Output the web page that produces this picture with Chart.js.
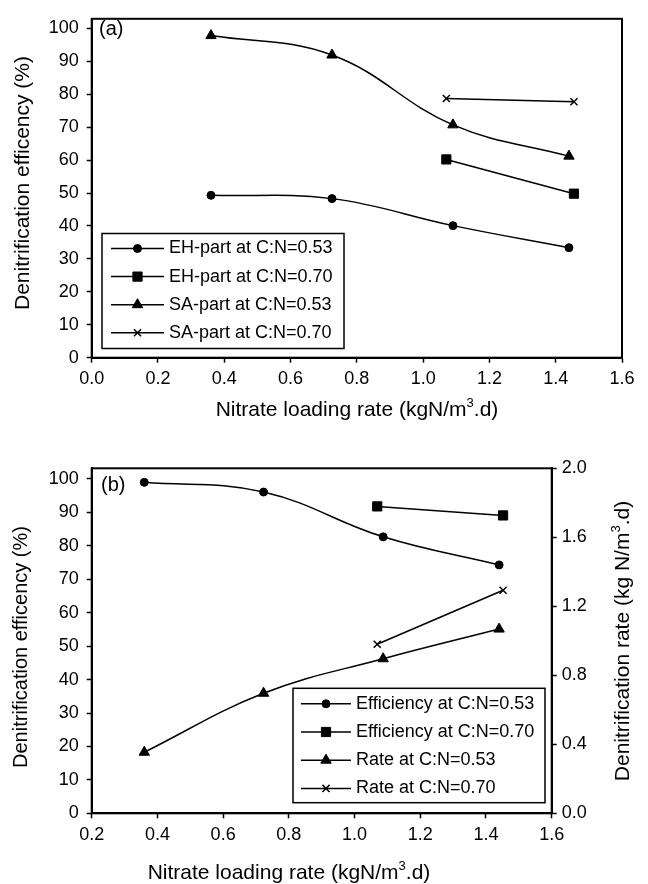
<!DOCTYPE html>
<html>
<head>
<meta charset="utf-8">
<script src="https://cdn.jsdelivr.net/npm/chart.js@4.4.0/dist/chart.umd.min.js"></script>
<style>
  html, body { margin: 0; padding: 0; background: #fff; }
  #wrap { position: relative; width: 648px; height: 884px; }
  .panel { position: absolute; left: 0; width: 648px; }
</style>
</head>
<body>
<div id="wrap">
  <div class="panel" style="top:0;height:430px"><canvas id="chartA"></canvas></div>
  <div class="panel" style="top:430px;height:454px"><canvas id="chartB"></canvas></div>
</div>
<script>
// ---- panel (a) data ----
const loadA053 = [0.36, 0.725, 1.09, 1.44];
const loadA070 = [1.07, 1.455];
const ehPart053 = [49.3, 48.3, 40.1, 33.4];
const ehPart070 = [60.2, 49.8];
const saPart053 = [97.8, 91.9, 70.7, 61.2];
const saPart070 = [78.7, 77.7];
const xTicksA = [0.0, 0.2, 0.4, 0.6, 0.8, 1.0, 1.2, 1.4, 1.6];
const yTicksA = [0, 10, 20, 30, 40, 50, 60, 70, 80, 90, 100];

// ---- panel (b) data ----
const loadB053 = [0.36, 0.723, 1.087, 1.44];
const loadB070 = [1.069, 1.452];
const eff053 = [99.0, 96.1, 82.7, 74.3];
const eff070 = [91.8, 89.1];
const rate053 = [0.354, 0.696, 0.896, 1.068];
const rate070 = [0.98, 1.293];
const xTicksB = [0.2, 0.4, 0.6, 0.8, 1.0, 1.2, 1.4, 1.6];
const yTicksB = [0, 10, 20, 30, 40, 50, 60, 70, 80, 90, 100];
const rateTicks = [0.0, 0.4, 0.8, 1.2, 1.6, 2.0];

const FONT = "'Liberation Sans', Arial, Helvetica, sans-serif";
Chart.defaults.font.family = FONT;
Chart.defaults.color = "#000";

const pts = (xs, ys) => xs.map((x, i) => ({ x: x, y: ys[i] }));

function series(label, xs, ys, style, radius, smooth, axis) {
    return {
        label: label,
        data: pts(xs, ys),
        yAxisID: axis || "y",
        borderColor: "#000",
        borderWidth: 1.5,
        backgroundColor: "#000",
        pointStyle: style,
        pointRadius: radius,
        pointBorderWidth: style === "crossRot" ? 1.5 : 1,
        pointBorderColor: "#000",
        pointBackgroundColor: "#000",
        tension: smooth ? 0.4 : 0,
        fill: false,
    };
}

function axis(extra) {
    return Object.assign({
        type: "linear",
        border: { display: true, color: "#000", width: 2 },
        grid: { drawOnChartArea: false, drawTicks: true, tickLength: 5, tickWidth: 1.5, tickColor: "#000" },
    }, extra);
}

// frame round the plot area
const framePlugin = {
    id: "frame",
    beforeDatasetsDraw(chart) {
        const a = chart.chartArea, ctx = chart.ctx;
        ctx.save();
        ctx.strokeStyle = "#000";
        ctx.lineWidth = 2;
        ctx.strokeRect(a.left, a.top, a.right - a.left, a.bottom - a.top);
        ctx.restore();
    }
};

// legend box drawn inside the plot, like the original
const boxLegend = {
    id: "boxLegend",
    afterDraw(chart, args, opts) {
        const ctx = chart.ctx;
        ctx.save();
        ctx.fillStyle = "#fff";
        ctx.fillRect(opts.x, opts.y, opts.w, opts.h);
        ctx.strokeStyle = "#000";
        ctx.lineWidth = 1.5;
        ctx.strokeRect(opts.x, opts.y, opts.w, opts.h);
        ctx.font = "18px " + FONT;
        ctx.textBaseline = "middle";
        ctx.textAlign = "left";
        chart.data.datasets.forEach((ds, i) => {
            const y = opts.rowY + i * opts.rowGap;
            ctx.strokeStyle = "#000";
            ctx.lineWidth = 1.5;
            ctx.beginPath();
            ctx.moveTo(opts.lineX0, y);
            ctx.lineTo(opts.lineX1, y);
            ctx.stroke();
            ctx.lineWidth = ds.pointBorderWidth;
            ctx.fillStyle = "#000";
            Chart.helpers.drawPoint(ctx, { pointStyle: ds.pointStyle, radius: ds.pointRadius, borderWidth: ds.pointBorderWidth, rotation: 0 }, (opts.lineX0 + opts.lineX1) / 2, y);
            ctx.fillStyle = "#000";
            ctx.fillText(ds.label, opts.textX, y);
        });
        ctx.restore();
    }
};

// panel letter and axis titles (with superscript)
function drawRich(ctx, parts, size) {
    let total = 0;
    parts.forEach(p => {
        ctx.font = (p.sup ? size * 0.62 : size) + "px " + FONT;
        total += ctx.measureText(p.t).width;
    });
    let x = -total / 2;
    parts.forEach(p => {
        ctx.font = (p.sup ? size * 0.62 : size) + "px " + FONT;
        ctx.fillText(p.t, x, p.sup ? -size * 0.32 : 0);
        x += ctx.measureText(p.t).width;
    });
}

const textPlugin = {
    id: "figText",
    afterDraw(chart, args, opts) {
        const ctx = chart.ctx;
        ctx.save();
        ctx.fillStyle = "#000";
        ctx.textBaseline = "middle";
        ctx.textAlign = "left";
        opts.items.forEach(it => {
            ctx.save();
            ctx.translate(it.x, it.y);
            if (it.rot) ctx.rotate(it.rot);
            if (it.left) {
                ctx.font = it.size + "px " + FONT;
                ctx.fillText(it.parts[0].t, 0, 0);
            } else {
                drawRich(ctx, it.parts, it.size);
            }
            ctx.restore();
        });
        ctx.restore();
    }
};

const xTitle = [{ t: "Nitrate loading rate (kgN/m" }, { t: "3", sup: true }, { t: ".d)" }];
const effTitle = [{ t: "Denitrification efficency (%)" }];
const rateTitle = [{ t: "Denitrification rate (kg N/m" }, { t: "3", sup: true }, { t: ".d)" }];

// ---- chart (a) ----
new Chart(document.getElementById("chartA").getContext("2d"), {
    type: "line",
    data: {
        datasets: [
            series("EH-part at C:N=0.53", loadA053, ehPart053, "circle", 4, true),
            series("EH-part at C:N=0.70", loadA070, ehPart070, "rect", 6.5, false),
            series("SA-part at C:N=0.53", loadA053, saPart053, "triangle", 6, true),
            series("SA-part at C:N=0.70", loadA070, saPart070, "crossRot", 5, false),
        ],
    },
    options: {
        responsive: true,
        maintainAspectRatio: false,
        animation: false,
        layout: { padding: { top: 8.3, right: 26, left: 0, bottom: 0 } },
        scales: {
            x: axis({
                min: 0, max: 1.6,
                afterBuildTicks: (s) => { s.ticks = xTicksA.map(v => ({ value: v })); },
                afterFit: (s) => { s.height = 430 - 357.7; },
                ticks: { font: { size: 18 }, padding: 6, autoSkip: false, maxRotation: 0, callback: (v) => Number(v).toFixed(1) },
            }),
            y: axis({
                min: 0, max: 102.9,
                afterBuildTicks: (s) => { s.ticks = yTicksA.map(v => ({ value: v })); },
                afterFit: (s) => { s.width = 91.7; },
                ticks: { font: { size: 18 }, padding: 8, autoSkip: false },
            }),
        },
        plugins: {
            legend: { display: false },
            tooltip: { enabled: false },
            boxLegend: { x: 102, y: 233.5, w: 242, h: 115, rowY: 248.5, rowGap: 28.1, lineX0: 111, lineX1: 164, textX: 169 },
            figText: {
                items: [
                    { parts: [{ t: "(a)" }], size: 20, x: 99, y: 29, left: true },
                    { parts: effTitle, size: 21, x: 23, y: 183, rot: -Math.PI / 2 },
                    { parts: xTitle, size: 21, x: 357, y: 410 },
                ],
            },
        },
    },
    plugins: [framePlugin, boxLegend, textPlugin],
});

// ---- chart (b) ----
new Chart(document.getElementById("chartB").getContext("2d"), {
    type: "line",
    data: {
        datasets: [
            series("Efficiency at C:N=0.53", loadB053, eff053, "circle", 4, true),
            series("Efficiency at C:N=0.70", loadB070, eff070, "rect", 6.5, false),
            series("Rate at C:N=0.53", loadB053, rate053, "triangle", 6, true, "y1"),
            series("Rate at C:N=0.70", loadB070, rate070, "crossRot", 5, false, "y1"),
        ],
    },
    options: {
        responsive: true,
        maintainAspectRatio: false,
        animation: false,
        layout: { padding: { top: 38.3, right: 0, left: 0, bottom: 0 } },
        scales: {
            x: axis({
                min: 0.2, max: 1.6,
                afterBuildTicks: (s) => { s.ticks = xTicksB.map(v => ({ value: v })); },
                afterFit: (s) => { s.height = 454 - 383.3; },
                ticks: { font: { size: 18 }, padding: 6, autoSkip: false, maxRotation: 0, callback: (v) => Number(v).toFixed(1) },
            }),
            y: axis({
                min: 0, max: 103.2,
                afterBuildTicks: (s) => { s.ticks = yTicksB.map(v => ({ value: v })); },
                afterFit: (s) => { s.width = 91.7; },
                ticks: { font: { size: 18 }, padding: 8, autoSkip: false },
            }),
            y1: axis({
                position: "right",
                min: 0, max: 2.0,
                afterBuildTicks: (s) => { s.ticks = rateTicks.map(v => ({ value: v })); },
                afterFit: (s) => { s.width = 648 - 551.7; },
                ticks: { font: { size: 18 }, padding: 5, autoSkip: false, callback: (v) => Number(v).toFixed(1) },
            }),
        },
        plugins: {
            legend: { display: false },
            tooltip: { enabled: false },
            boxLegend: { x: 293, y: 258.3, w: 252, h: 114.4, rowY: 273.8, rowGap: 28.2, lineX0: 301, lineX1: 351, textX: 356 },
            figText: {
                items: [
                    { parts: [{ t: "(b)" }], size: 20, x: 101, y: 55, left: true },
                    { parts: effTitle, size: 20, x: 21, y: 217, rot: -Math.PI / 2 },
                    { parts: rateTitle, size: 21, x: 623, y: 211, rot: -Math.PI / 2 },
                    { parts: xTitle, size: 21, x: 289, y: 443 },
                ],
            },
        },
    },
    plugins: [framePlugin, boxLegend, textPlugin],
});
</script>
</body>
</html>
